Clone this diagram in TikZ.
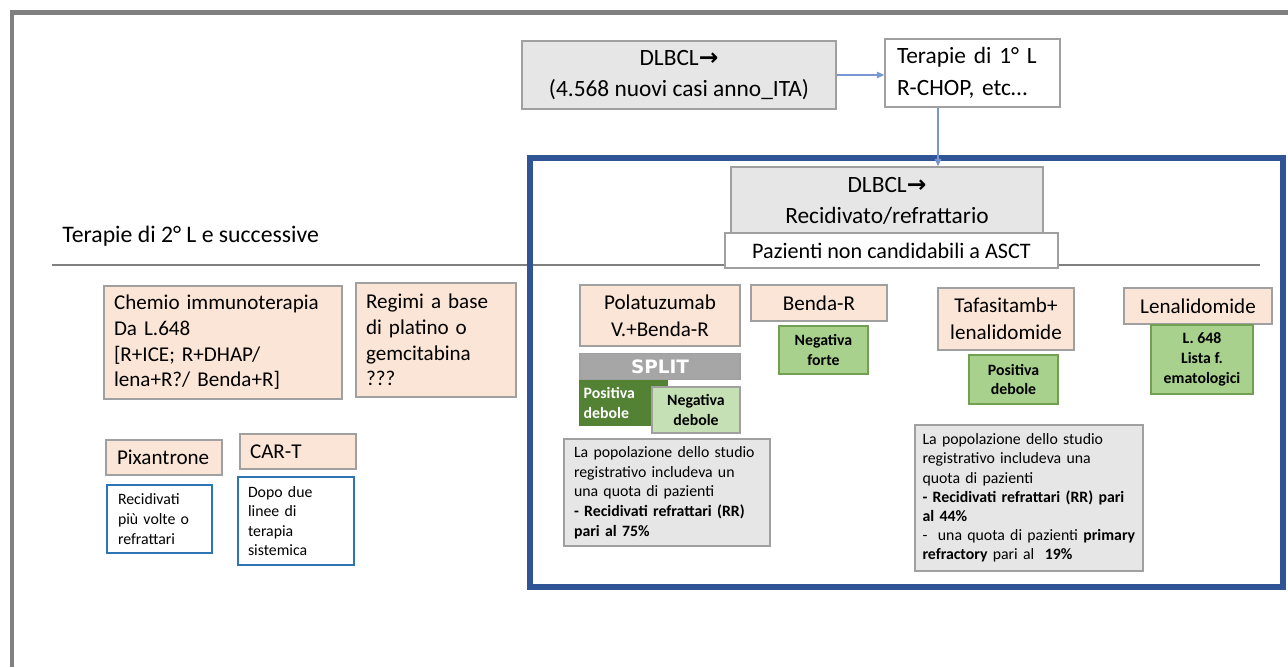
\documentclass[tikz,border=0pt]{standalone}
\usepackage{fontspec}
\setmainfont{Carlito}
\newfontfamily\symfont{DejaVu Sans}
\definecolor{Panel}{RGB}{231,230,230}
\definecolor{LineGray}{RGB}{160,160,160}
\definecolor{SepGray}{RGB}{128,128,128}
\definecolor{Peach}{RGB}{251,229,214}
\definecolor{NoteBlue}{RGB}{46,117,182}
\definecolor{FrameBlue}{RGB}{47,85,151}
\definecolor{ArrowBlue}{RGB}{120,150,210}
\definecolor{Vote}{RGB}{169,209,142}
\definecolor{VoteEdge}{RGB}{112,160,80}
\definecolor{DarkGreen}{RGB}{84,130,53}
\definecolor{LightGreen}{RGB}{197,224,180}
\definecolor{SplitGray}{RGB}{166,166,166}
\usetikzlibrary{arrows.meta,positioning}
\newcommand{\rarr}{{\symfont\bfseries →}}

\begin{document}
\begin{tikzpicture}[x=0.02cm,y=-0.02cm,
  box/.style={draw=LineGray,line width=0.8pt,inner sep=0pt},
  gbox/.style={box,fill=Panel},
  wbox/.style={box,fill=white},
  drug/.style={box,fill=Peach},
  note/.style={draw=NoteBlue,line width=0.8pt,fill=white,inner sep=0pt,align=left,font=\fontsize{9}{11.2}\selectfont},
  vote/.style={draw=VoteEdge,line width=0.8pt,fill=Vote,inner sep=0pt,align=center,font=\bfseries\fontsize{9}{11.3}\selectfont},
  conn/.style={draw=ArrowBlue,line width=0.6pt,-{Triangle[length=1.5mm,width=1.3mm]}},
  dl/.style={font=\fontsize{13.3}{18}\selectfont,align=center},
  med/.style={font=\fontsize{12}{14.6}\selectfont,align=left},
  big/.style={font=\fontsize{12}{15.3}\selectfont,align=center},
  small/.style={font=\fontsize{9}{11.2}\selectfont,align=left}]
  \useasboundingbox (0,0) rectangle (1288,667);
  \draw[SepGray,line width=2.8pt] (12,667) -- (12,12.5) -- (1288,12.5);
  \draw[SepGray,line width=1.1pt] (52,265) -- (1260,265);
  \draw[FrameBlue,line width=3.5pt] (530,158) rectangle (1283,587);

  \node[gbox,dl,minimum width=6.28cm,minimum height=1.36cm] (dx) at (679,75) {DLBCL\rarr\\(4.568 nuovi casi anno\_ITA)};
  \node[wbox,font=\fontsize{13.3}{18}\selectfont,align=left,text width=3.02cm,minimum width=3.5cm,minimum height=1.36cm] (first) at (972.5,73) {Terapie di 1° L\\R-CHOP, etc…};
  \node[gbox,dl,minimum width=6.24cm,minimum height=1.36cm] (rr) at (887,201) {DLBCL\rarr\\Recidivato/refrattario};
  \node[wbox,font=\fontsize{12.6}{15}\selectfont,minimum width=6.66cm,minimum height=0.7cm] (asct) at (891.5,250.5) {Pazienti non candidabili a ASCT};
  \draw[conn] (dx.east) -- (dx.east -| first.west);
  \draw[conn] ([xshift=-0.69cm]first.south) -- ([xshift=-0.69cm]first.south |- rr.north);

  \node[anchor=west,inner sep=0pt,font=\fontsize{13.5}{16}\selectfont] (second) at (62,236) {Terapie di 2° L e successive};

  \node[drug,med,text width=4.36cm,minimum width=4.76cm,minimum height=2.26cm] (chemio) at (223,342.5) {Chemio immunoterapia\\Da L.648\\{[}R+ICE; R+DHAP/\\lena+R?/ Benda+R{]}};
  \node[drug,med,text width=2.8cm,minimum width=3.2cm,minimum height=2.28cm] (regimi) at (436,340) {Regimi a base\\di platino o\\gemcitabina\\???};
  \node[drug,med,text width=1.88cm,minimum width=2.32cm,minimum height=0.7cm] (pixan) at (164,457.5) {Pixantrone};
  \node[drug,med,text width=1.92cm,minimum width=2.32cm,minimum height=0.7cm] (cart) at (298,451.5) {CAR-T};
  \node[note,text width=1.66cm,minimum width=2.1cm,minimum height=1.36cm] (recid) at (159.5,519) {Recidivati\\più volte o\\refrattari};
  \node[note,font=\fontsize{9}{11}\selectfont,text width=1.92cm,minimum width=2.32cm,minimum height=1.76cm] (dopo) at (296,521) {Dopo due\\linee di\\terapia\\sistemica};

  \node[drug,big,minimum width=3.2cm,minimum height=1.22cm] (pola) at (660,315.5) {Polatuzumab\\V.+Benda-R};
  \node[draw=LineGray,line width=0.8pt,fill=SplitGray,text=white,font=\symfont\bfseries\fontsize{10.5}{12}\selectfont,minimum width=3.2cm,minimum height=0.52cm,inner sep=0pt,below=0.12cm of pola] (split) {SPLIT};
  \node[draw=DarkGreen,fill=DarkGreen,text=white,inner sep=0pt,anchor=north west,align=left,font=\bfseries\fontsize{9}{11}\selectfont,text width=1.6cm,minimum width=1.76cm,minimum height=0.9cm] (posw) at (split.south west) {Positiva\\debole};
  \node[draw=LineGray,line width=0.8pt,fill=LightGreen,inner sep=0pt,align=center,font=\bfseries\fontsize{9}{11.3}\selectfont,minimum width=1.76cm,minimum height=0.92cm] (negw) at (696,410) {Negativa\\debole};
  \node[gbox,small,text width=3.72cm,minimum width=4.12cm,minimum height=2.14cm] (popa) at (667,492.5) {La popolazione dello studio\\registrativo includeva un\\una quota di pazienti\\\textbf{- Recidivati refrattari (RR)}\\\textbf{pari al 75\%}};

  \node[drug,big,minimum width=2.72cm,minimum height=0.72cm] (benda) at (819,303) {Benda-R};
  \node[vote,minimum width=1.78cm,minimum height=0.96cm] (negf) at (823.5,350) {Negativa\\forte};

  \node[drug,big,minimum width=2.72cm,minimum height=1.24cm] (tafa) at (1006,319) {Tafasitamb+\\lenalidomide};
  \node[vote,minimum width=1.78cm,minimum height=0.98cm] (posa) at (1013.5,379.5) {Positiva\\debole};
  \node[gbox,font=\fontsize{9}{10.9}\selectfont,align=left,text width=4.26cm,minimum width=4.56cm,minimum height=2.92cm] (popb) at (1029,498) {La popolazione dello studio\\registrativo includeva una\\quota di pazienti\\\textbf{- Recidivati refrattari (RR) pari}\\\textbf{al 44\%}\\-~ una quota di pazienti \textbf{primary}\\\textbf{refractory} pari al~ \textbf{19\%}};

  \node[drug,big,minimum width=2.96cm,minimum height=0.72cm] (lena) at (1198,306) {Lenalidomide};
  \node[vote,minimum width=2.04cm,minimum height=1.38cm] (lista) at (1202,359.5) {L. 648\\Lista f.\\ematologici};
\end{tikzpicture}
\end{document}
